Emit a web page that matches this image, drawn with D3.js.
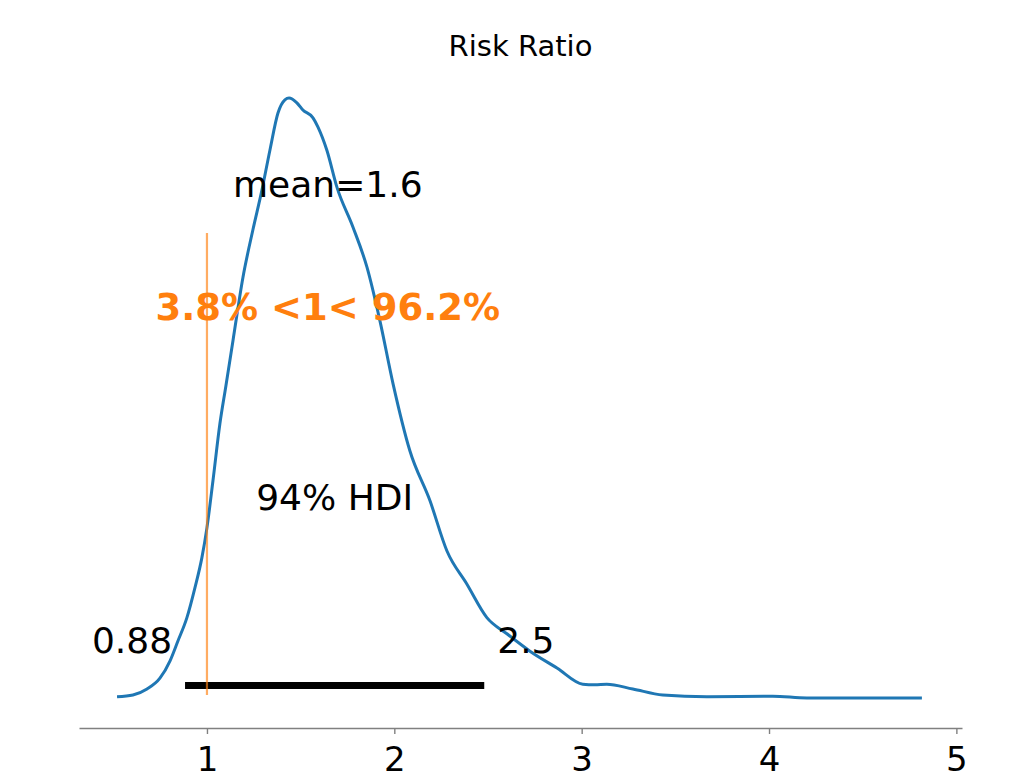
<!DOCTYPE html>
<html>
<head>
<meta charset="utf-8">
<script src="https://cdn.jsdelivr.net/npm/d3@7"></script>
<style>
  html, body { margin: 0; padding: 0; background: #fff; }
  svg { display: block; font-family: "DejaVu Sans", sans-serif; }
</style>
</head>
<body>
<svg id="chart" width="1024" height="782"></svg>
<script>
// ---- data ----
const title = "Risk Ratio";
// posterior density (relative, peak = 1) at risk-ratio values
const ratioValues = [0.520, 0.605, 0.680, 0.749, 0.803, 0.845, 0.893, 0.936, 0.973, 1.000, 1.032, 1.069, 1.101, 1.139, 1.192, 1.245, 1.293, 1.336, 1.379, 1.416, 1.438, 1.480, 1.512, 1.566, 1.592, 1.640, 1.694, 1.779, 1.854, 1.923, 1.993, 2.083, 2.190, 2.281, 2.387, 2.494, 2.601, 2.724, 2.868, 3.006, 3.070, 3.134, 3.273, 3.433, 3.668, 4.020, 4.202, 4.816];
const densityValues = [0.002, 0.005, 0.015, 0.033, 0.062, 0.095, 0.134, 0.184, 0.234, 0.284, 0.362, 0.457, 0.520, 0.596, 0.701, 0.780, 0.846, 0.913, 0.975, 0.997, 1.000, 0.992, 0.980, 0.967, 0.952, 0.913, 0.851, 0.785, 0.718, 0.629, 0.524, 0.412, 0.329, 0.245, 0.190, 0.134, 0.107, 0.078, 0.050, 0.023, 0.022, 0.023, 0.015, 0.005, 0.002, 0.003, 0.000, 0.000];
const meanValue = 1.645;
const meanLabel = "mean=1.6";
const hdiBounds = [0.883, 2.480];
const hdiLabels = ["0.88", "2.5"];
const hdiText = "94% HDI";
const refValue = 1;
const refText = "3.8% <1< 96.2%";
const xTicks = [1, 2, 3, 4, 5];

// ---- layout ----
const svg = d3.select("#chart");
const mLeft = 79, mRight = 962, mTop = 68, mBottom = 728;

const x = d3.scaleLinear().domain([0.317, 5.03]).range([mLeft, mRight]);
const dMax = d3.max(densityValues), dMin = d3.min(densityValues);
const pad = 0.05 * (dMax - dMin);
const y = d3.scaleLinear().domain([dMin - pad, dMax + pad]).range([mBottom, mTop]);
const plotHeight = y.domain()[1];

const pts = ratioValues.map((v, i) => [v, densityValues[i]]);

// title
svg.append("text")
  .attr("x", (mLeft + mRight) / 2).attr("y", 56)
  .attr("text-anchor", "middle")
  .attr("font-size", 29).attr("fill", "#000")
  .text(title);

// density curve
svg.append("path")
  .datum(pts)
  .attr("fill", "none")
  .attr("stroke", "#1f77b4")
  .attr("stroke-width", 3)
  .attr("stroke-linejoin", "round")
  .attr("d", d3.line().x(d => x(d[0])).y(d => y(d[1])).curve(d3.curveMonotoneX));

// HDI bar
svg.append("line")
  .attr("x1", x(hdiBounds[0])).attr("x2", x(hdiBounds[1]))
  .attr("y1", y(plotHeight * 0.02)).attr("y2", y(plotHeight * 0.02))
  .attr("stroke", "#000").attr("stroke-width", 7).attr("stroke-linecap", "butt");

// reference line (axes fraction 0.05 -> 0.75)
svg.append("line")
  .attr("x1", x(refValue)).attr("x2", x(refValue))
  .attr("y1", mBottom - 0.05 * (mBottom - mTop)).attr("y2", mBottom - 0.75 * (mBottom - mTop))
  .attr("stroke", "#ff7f0e").attr("stroke-opacity", 0.65).attr("stroke-width", 2.2);

// annotations
svg.append("text")
  .attr("x", x(meanValue)).attr("y", 197)
  .attr("text-anchor", "middle").attr("font-size", 36).attr("fill", "#000")
  .text(meanLabel);

svg.append("text")
  .attr("x", x(meanValue)).attr("y", 320)
  .attr("text-anchor", "middle").attr("font-size", 37).attr("font-weight", "bold")
  .attr("fill", "#ff7f0e")
  .text(refText);

svg.append("text")
  .attr("x", x((hdiBounds[0] + hdiBounds[1]) / 2)).attr("y", 510)
  .attr("text-anchor", "middle").attr("font-size", 36).attr("fill", "#000")
  .text(hdiText);

svg.append("text")
  .attr("x", x(hdiBounds[0]) - 13).attr("y", 653)
  .attr("text-anchor", "end").attr("font-size", 36).attr("fill", "#000")
  .text(hdiLabels[0]);

svg.append("text")
  .attr("x", x(hdiBounds[1]) + 13).attr("y", 653)
  .attr("text-anchor", "start").attr("font-size", 36).attr("fill", "#000")
  .text(hdiLabels[1]);

// x axis
const axis = svg.append("g")
  .attr("transform", `translate(0,${mBottom})`)
  .call(d3.axisBottom(x).tickValues(xTicks).tickFormat(d3.format("d")).tickSize(6).tickSizeOuter(0).tickPadding(13));
axis.select(".domain").attr("stroke", "#808080").attr("stroke-width", 1.4);
axis.selectAll(".tick line").attr("stroke", "#808080").attr("stroke-width", 1.4);
axis.selectAll(".tick text").attr("font-size", 34).attr("fill", "#000").attr("font-family", "DejaVu Sans, sans-serif");
</script>
</body>
</html>
